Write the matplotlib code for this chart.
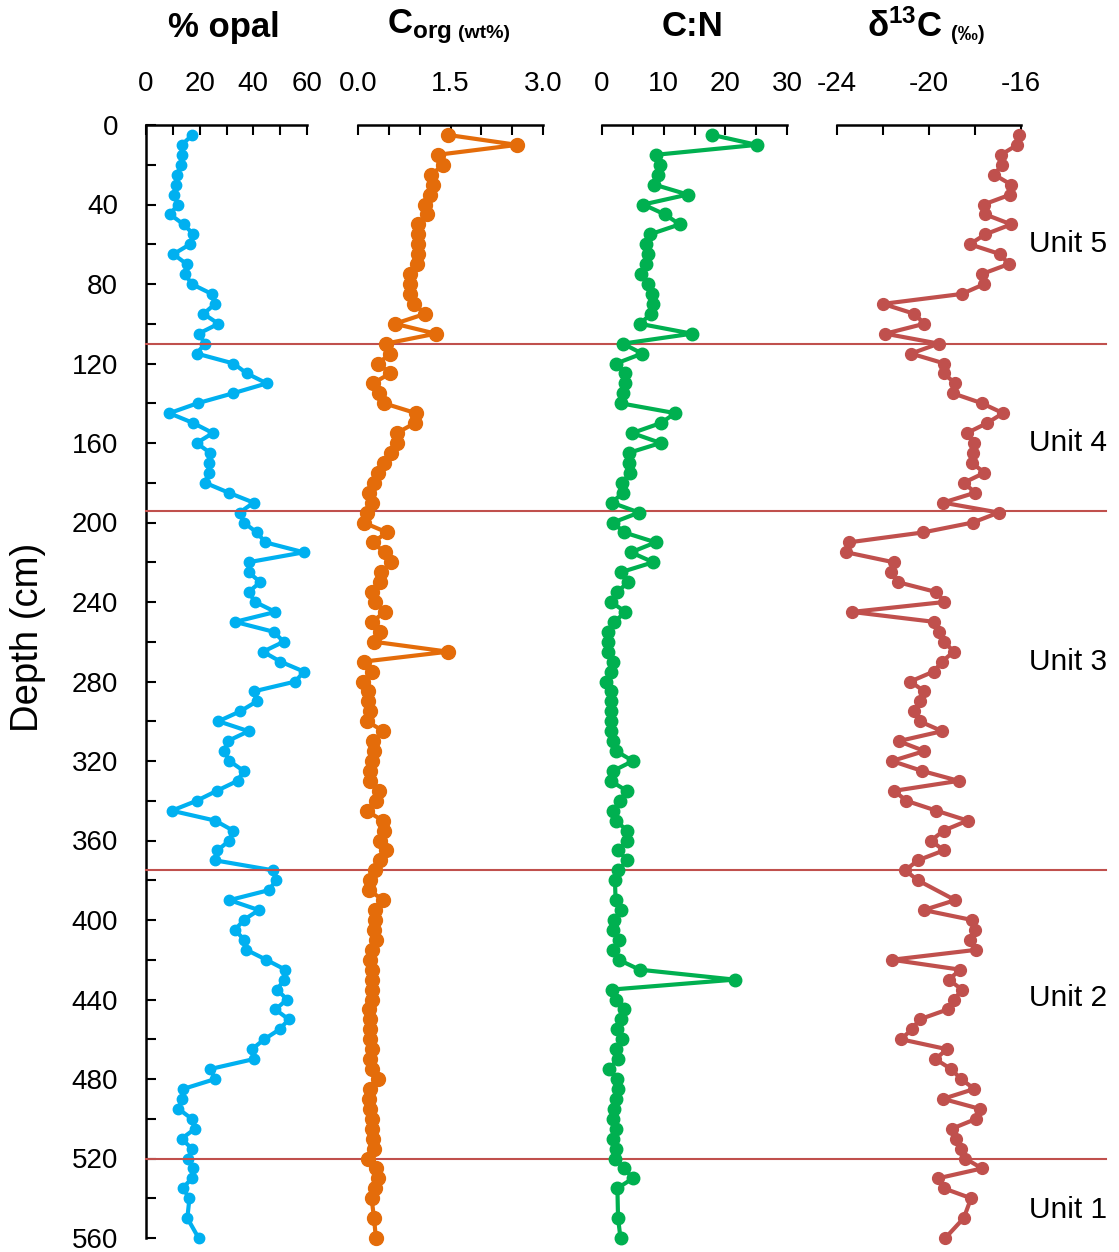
import matplotlib
matplotlib.use("Agg")
import matplotlib.pyplot as plt
import matplotlib.transforms as mtransforms
from matplotlib.ticker import MultipleLocator, FormatStrFormatter

plt.rcParams['font.family'] = ['Liberation Sans', 'DejaVu Sans']
plt.rcParams['mathtext.fontset'] = 'custom'
plt.rcParams['mathtext.rm'] = 'Liberation Sans'
plt.rcParams['mathtext.bf'] = 'Liberation Sans:bold'
plt.rcParams['mathtext.it'] = 'Liberation Sans:italic'

# depth (cm) of samples for opal and Corg
depth = [5, 10, 15, 20, 25, 30, 35, 40, 45, 50,
         55, 60, 65, 70, 75, 80, 85, 90, 95, 100,
         105, 110, 115, 120, 125, 130, 135, 140, 145, 150,
         155, 160, 165, 170, 175, 180, 185, 190, 195, 200,
         205, 210, 215, 220, 225, 230, 235, 240, 245, 250,
         255, 260, 265, 270, 275, 280, 285, 290, 295, 300,
         305, 310, 315, 320, 325, 330, 335, 340, 345, 350,
         355, 360, 365, 370, 375, 380, 385, 390, 395, 400,
         405, 410, 415, 420, 425, 430, 435, 440, 445, 450,
         455, 460, 465, 470, 475, 480, 485, 490, 495, 500,
         505, 510, 515, 520, 525, 530, 535, 540, 550, 560]

opal = [17.3, 13.3, 13.3, 13.0, 11.5, 11.2, 10.5, 11.8, 9.0, 14.0,
        17.7, 16.4, 10.2, 15.2, 14.6, 17.0, 24.5, 25.8, 21.4, 27.0,
        19.6, 22.0, 18.9, 32.6, 37.6, 45.0, 32.4, 19.2, 8.7, 17.7,
        24.9, 18.9, 23.9, 23.3, 23.3, 22.0, 30.8, 40.1, 34.9, 36.4,
        41.3, 44.5, 58.8, 38.2, 38.2, 42.6, 38.2, 40.7, 48.2, 33.2,
        47.6, 51.3, 43.6, 50.1, 58.8, 55.7, 40.1, 41.3, 35.1, 27.0,
        38.2, 30.4, 29.1, 31.1, 36.4, 34.1, 26.4, 18.9, 9.6, 25.8,
        32.4, 31.1, 26.6, 25.8, 47.3, 48.6, 45.7, 31.1, 42.0, 36.4,
        33.2, 36.6, 37.4, 44.8, 51.9, 51.6, 48.8, 52.6, 48.2, 53.2,
        49.8, 44.1, 39.5, 40.1, 23.9, 25.8, 13.9, 13.3, 12.1, 17.0,
        18.3, 13.3, 17.0, 15.8, 17.4, 17.0, 13.7, 16.2, 15.4, 19.6]

corg = [1.46, 2.58, 1.29, 1.38, 1.19, 1.21, 1.17, 1.09, 1.12, 0.98,
        0.98, 0.98, 0.98, 0.95, 0.84, 0.84, 0.84, 0.91, 1.09, 0.60,
        1.26, 0.45, 0.52, 0.33, 0.52, 0.24, 0.34, 0.42, 0.94, 0.92,
        0.63, 0.63, 0.54, 0.42, 0.33, 0.26, 0.18, 0.23, 0.14, 0.09,
        0.47, 0.24, 0.43, 0.53, 0.38, 0.36, 0.23, 0.27, 0.43, 0.23,
        0.36, 0.26, 1.46, 0.09, 0.23, 0.08, 0.16, 0.16, 0.19, 0.15,
        0.41, 0.24, 0.26, 0.22, 0.19, 0.20, 0.34, 0.29, 0.14, 0.40,
        0.42, 0.36, 0.45, 0.36, 0.27, 0.20, 0.18, 0.41, 0.27, 0.27,
        0.26, 0.29, 0.22, 0.19, 0.23, 0.23, 0.22, 0.22, 0.18, 0.20,
        0.19, 0.20, 0.23, 0.20, 0.23, 0.33, 0.20, 0.18, 0.20, 0.22,
        0.23, 0.24, 0.26, 0.16, 0.29, 0.33, 0.27, 0.22, 0.26, 0.29]

# C:N has no sample at 385, 540, 545 cm
depth_cn = [5, 10, 15, 20, 25, 30, 35, 40, 45, 50,
            55, 60, 65, 70, 75, 80, 85, 90, 95, 100,
            105, 110, 115, 120, 125, 130, 135, 140, 145, 150,
            155, 160, 165, 170, 175, 180, 185, 190, 195, 200,
            205, 210, 215, 220, 225, 230, 235, 240, 245, 250,
            255, 260, 265, 270, 275, 280, 285, 290, 295, 300,
            305, 310, 315, 320, 325, 330, 335, 340, 345, 350,
            355, 360, 365, 370, 375, 380,
            390, 395, 400, 405, 410, 415, 420, 425, 430, 435, 440,
            445, 450, 455, 460, 465, 470, 475, 480, 485, 490,
            495, 500, 505, 510, 515, 520, 525, 530, 535,
            550, 560]

cn = [17.9, 25.1, 8.7, 9.4, 9.0, 8.5, 13.9, 6.7, 10.2, 12.6,
      7.8, 7.2, 7.4, 7.2, 6.3, 7.5, 8.1, 8.3, 8.0, 6.1,
      14.6, 3.4, 6.5, 2.3, 3.8, 3.7, 3.4, 3.0, 11.9, 9.5,
      4.9, 9.5, 4.3, 4.3, 4.5, 3.3, 3.4, 1.6, 6.0, 1.8,
      3.6, 8.7, 4.7, 8.3, 3.1, 4.2, 2.5, 1.5, 3.8, 2.0,
      0.9, 1.0, 0.9, 1.8, 1.4, 0.7, 1.4, 1.4, 1.5, 1.5,
      1.5, 1.8, 2.3, 5.0, 1.8, 1.4, 4.0, 2.9, 1.8, 2.2,
      4.1, 4.1, 2.6, 4.1, 2.6, 2.1,
      2.2, 3.1, 2.0, 1.8, 2.7, 1.8, 2.7, 6.1, 21.5, 1.6, 2.3,
      3.6, 3.0, 2.5, 3.3, 2.2, 2.6, 1.1, 2.5, 2.6, 2.3,
      2.0, 1.8, 2.3, 1.8, 2.3, 2.1, 3.6, 5.0, 2.5,
      2.6, 3.0]

# d13C has no sample at 385, 545 cm
depth_c13 = [5, 10, 15, 20, 25, 30, 35, 40, 45, 50,
             55, 60, 65, 70, 75, 80, 85, 90, 95, 100,
             105, 110, 115, 120, 125, 130, 135, 140, 145, 150,
             155, 160, 165, 170, 175, 180, 185, 190, 195, 200,
             205, 210, 215, 220, 225, 230, 235, 240, 245, 250,
             255, 260, 265, 270, 275, 280, 285, 290, 295, 300,
             305, 310, 315, 320, 325, 330, 335, 340, 345, 350,
             355, 360, 365, 370, 375, 380,
             390, 395, 400, 405, 410, 415, 420, 425, 430, 435, 440,
             445, 450, 455, 460, 465, 470, 475, 480, 485, 490,
             495, 500, 505, 510, 515, 520, 525, 530, 535, 540,
             550, 560]

d13c = [-16.10, -16.17, -16.87, -16.83, -17.16, -16.43, -16.46, -17.62, -17.55, -16.43,
        -17.55, -18.23, -16.90, -16.54, -17.70, -17.59, -18.57, -22.00, -20.64, -20.20,
        -21.90, -19.58, -20.78, -19.33, -19.36, -18.86, -18.96, -17.70, -16.78, -17.48,
        -18.35, -18.06, -18.09, -18.13, -17.59, -18.49, -17.99, -19.39, -16.97, -18.09,
        -20.26, -23.49, -23.59, -21.54, -21.65, -21.36, -19.68, -19.33, -23.35, -19.77,
        -19.58, -19.33, -18.93, -19.43, -19.80, -20.81, -20.20, -20.41, -20.67, -20.41,
        -19.43, -21.32, -20.20, -21.61, -20.30, -18.71, -21.51, -20.99, -19.68, -18.32,
        -19.36, -19.91, -19.36, -20.49, -21.03, -20.49,
        -18.86, -20.23, -18.13, -17.99, -18.23, -17.94, -21.61, -18.64, -19.14, -18.57, -18.90,
        -19.19, -20.41, -20.74, -21.22, -19.22, -19.72, -19.04, -18.61, -18.03, -19.39,
        -17.80, -17.94, -19.00, -18.81, -18.61, -18.42, -17.70, -19.62, -19.36, -18.17,
        -18.49, -19.29]

unit_bounds = [110, 194, 375, 520]
unit_names = ['Unit 5', 'Unit 4', 'Unit 3', 'Unit 2', 'Unit 1']
unit_label_depth = [60, 160, 270, 439, 546]

W, H = 1119, 1252
fig = plt.figure(figsize=(W / 100, H / 100), dpi=100)

y_top, y_bot = 125, 1238


def make_ax(x0, x1):
    return fig.add_axes([x0 / W, (H - y_bot) / H, (x1 - x0) / W, (y_bot - y_top) / H])


ax1 = make_ax(146, 307)
ax2 = make_ax(358, 543)
ax3 = make_ax(602, 787)
ax4 = make_ax(837, 1021)

panels = [
    (ax1, opal, depth, '#00B0F0', (0, 60), 20, 10, '%d', 7.5),
    (ax2, corg, depth, '#E46C0A', (0, 3), 1.5, 0.5, '%.1f', 10),
    (ax3, cn, depth_cn, '#00B050', (0, 30), 10, 5, '%d', 9),
    (ax4, d13c, depth_c13, '#C0504D', (-24, -16), 4, 2, '%d', 8.5),
]

for ax, vals, dep, col, lim, major, minor, fmt, ms in panels:
    ax.plot(vals, dep, '-o', color=col, lw=3.0, ms=ms, clip_on=False, zorder=3)
    ax.set_xlim(*lim)
    ax.set_ylim(560, 0)
    ax.xaxis.tick_top()
    ax.xaxis.set_major_locator(MultipleLocator(major))
    ax.xaxis.set_minor_locator(MultipleLocator(minor))
    ax.xaxis.set_major_formatter(FormatStrFormatter(fmt))
    ax.tick_params(axis='x', which='both', direction='in', length=7, width=1.5,
                   top=True, bottom=False, labeltop=True, labelbottom=False,
                   labelsize=20, pad=20)
    for s in ['bottom', 'right', 'left']:
        ax.spines[s].set_visible(False)
    ax.spines['top'].set_linewidth(1.8)
    ax.patch.set_alpha(0)
    if ax is not ax1:
        ax.set_yticks([])

ax1.spines['left'].set_visible(True)
ax1.spines['left'].set_linewidth(1.8)
ax1.yaxis.set_major_locator(MultipleLocator(40))
ax1.yaxis.set_minor_locator(MultipleLocator(20))
ax1.tick_params(axis='y', which='both', direction='in', length=7, width=1.5,
                labelsize=20, pad=20)

# unit boundaries across all panels
trans = mtransforms.blended_transform_factory(fig.transFigure, ax1.transData)
for d in unit_bounds:
    ax1.plot([146 / W, 1106 / W], [d, d], color='#C0504D', lw=1.5,
             transform=trans, clip_on=False, zorder=5)

for name, d in zip(unit_names, unit_label_depth):
    ax1.text(1029 / W, d, name, transform=trans, fontsize=21.5, va='center', ha='left')

fig.text(28 / W, 1 - 637 / H, 'Depth (cm)', rotation=90, fontsize=27.5,
         ha='center', va='center')

ty = 1 - 27 / H
fig.text(224 / W, ty, '% opal', fontsize=25, fontweight='bold', ha='center', va='center')
fig.text(419 / W, ty, r'C$_{\mathbf{org}}$', fontsize=25, fontweight='bold',
         ha='center', va='center')
fig.text(484 / W, 1 - 33 / H, '(wt%)', fontsize=14, fontweight='bold',
         ha='center', va='center')
fig.text(905 / W, ty, r'δ$^{\mathbf{13}}$C', fontsize=25, fontweight='bold',
         ha='center', va='center')
fig.text(968 / W, 1 - 34 / H, '(‰)', fontsize=14.5, fontweight='bold',
         ha='center', va='center')
fig.text(693 / W, ty, 'C:N', fontsize=25, fontweight='bold', ha='center', va='center')

fig.savefig('out.png', dpi=100)
